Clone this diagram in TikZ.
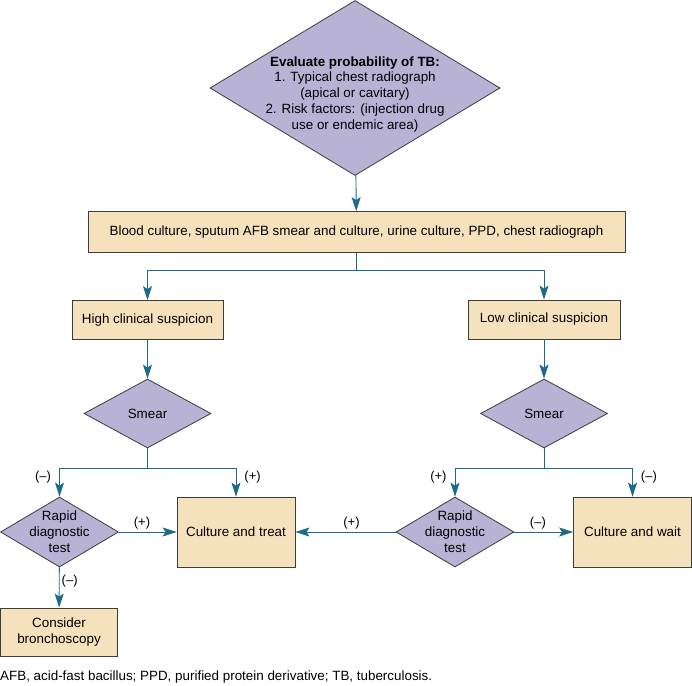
\documentclass[tikz,border=0pt]{standalone}
\usepackage{fontspec}
\setmainfont{Liberation Sans}
\usetikzlibrary{shapes.geometric, arrows.meta, positioning}
\definecolor{declav}{HTML}{B8B2D5}
\definecolor{acttan}{HTML}{F6E1BD}
\definecolor{linkteal}{HTML}{1C6A8A}
\definecolor{edgegray}{HTML}{3C3C3C}

\begin{document}
\begin{tikzpicture}[x=1pt, y=-1pt, >={Stealth[length=14pt, width=9pt, inset=3pt]},
    font=\fontsize{13.4}{15.8}\selectfont,
    dec/.style={diamond, draw=edgegray, fill=declav, line width=0.8pt, align=center, inner sep=-3pt},
    act/.style={rectangle, draw=edgegray, fill=acttan, line width=0.8pt, align=center, inner sep=0pt},
    link/.style={->, draw=linkteal, line width=0.9pt},
    sign/.style={font=\fontsize{13}{15}\selectfont, inner sep=2pt},
    fork/.style={sign, inner xsep=8pt}]
    \useasboundingbox (0,0) rectangle (692,685);

    \node[dec, aspect=1.66, inner sep=-7pt, minimum width=290pt, minimum height=175pt] (eval) at (355,88)
        {\rule{0pt}{22pt}\textbf{Evaluate probability of TB:}\\1. Typical chest radiograph\\(apical or cavitary)\\2. Risk factors: (injection drug\\use or endemic area)};
    \node[act, minimum width=537pt, minimum height=41pt] (tests) at (356.5,232)
        {Blood culture, sputum AFB smear and culture, urine culture, PPD, chest radiograph};

    \node[act, minimum width=151pt, minimum height=39pt] (high) at (147.5,320) {High clinical suspicion};
    \node[act, minimum width=152pt, minimum height=39pt] (low) at (544,319.5) {Low clinical suspicion};

    \node[dec, minimum width=127pt, minimum height=69pt] (smearh) at (147.5,413.5) {Smear};
    \node[dec, minimum width=127pt, minimum height=69pt] (smearl) at (544,413.5) {Smear};

    \node[dec, aspect=1.69, minimum width=118pt, minimum height=70pt] (rapidh) at (59.5,532) {Rapid\\diagnostic\\test};
    \node[act, minimum width=118pt, minimum height=70pt] (treat) at (236,532) {Culture and treat};
    \node[act, minimum width=117pt, minimum height=48pt] (bronch) at (59,632) {Consider\\bronchoscopy};
    \node[dec, aspect=1.69, minimum width=118pt, minimum height=70pt] (rapidl) at (455,532) {Rapid\\diagnostic\\test};
    \node[act, minimum width=118pt, minimum height=70pt] (wait) at (632.5,532) {Culture and wait};

    \node[anchor=west, inner sep=0pt] (note) at (0,677)
        {AFB, acid-fast bacillus; PPD, purified protein derivative; TB, tuberculosis.};

    \draw[link] (eval) -- (tests);
    \draw[link] (tests.south) -- ++(0,18) coordinate (split) -| (high);
    \draw[link] (split) -| (low);

    \draw[link] (high) -- (smearh);
    \draw[link] (smearh.south) -- ++(0,20) coordinate (splith) -| node[fork, pos=0.65, left] {(--)} (rapidh);
    \draw[link] (splith) -| node[fork, pos=0.65, right] {(+)} (treat);
    \draw[link] (rapidh) -- node[sign, pos=0.4, above] {(+)} (treat);
    \draw[link] (rapidh) -- node[sign, pos=0.34, right] {(--)} (bronch);

    \draw[link] (low) -- (smearl);
    \draw[link] (smearl.south) -- ++(0,20) coordinate (splitl) -| node[fork, pos=0.65, left] {(+)} (rapidl);
    \draw[link] (splitl) -| node[fork, pos=0.65, right] {(--)} (wait);
    \draw[link] (rapidl) -- node[sign, pos=0.4, above] {(--)} (wait);
    \draw[link] (rapidl) -- node[sign, pos=0.44, above] {(+)} (treat);
\end{tikzpicture}
\end{document}
